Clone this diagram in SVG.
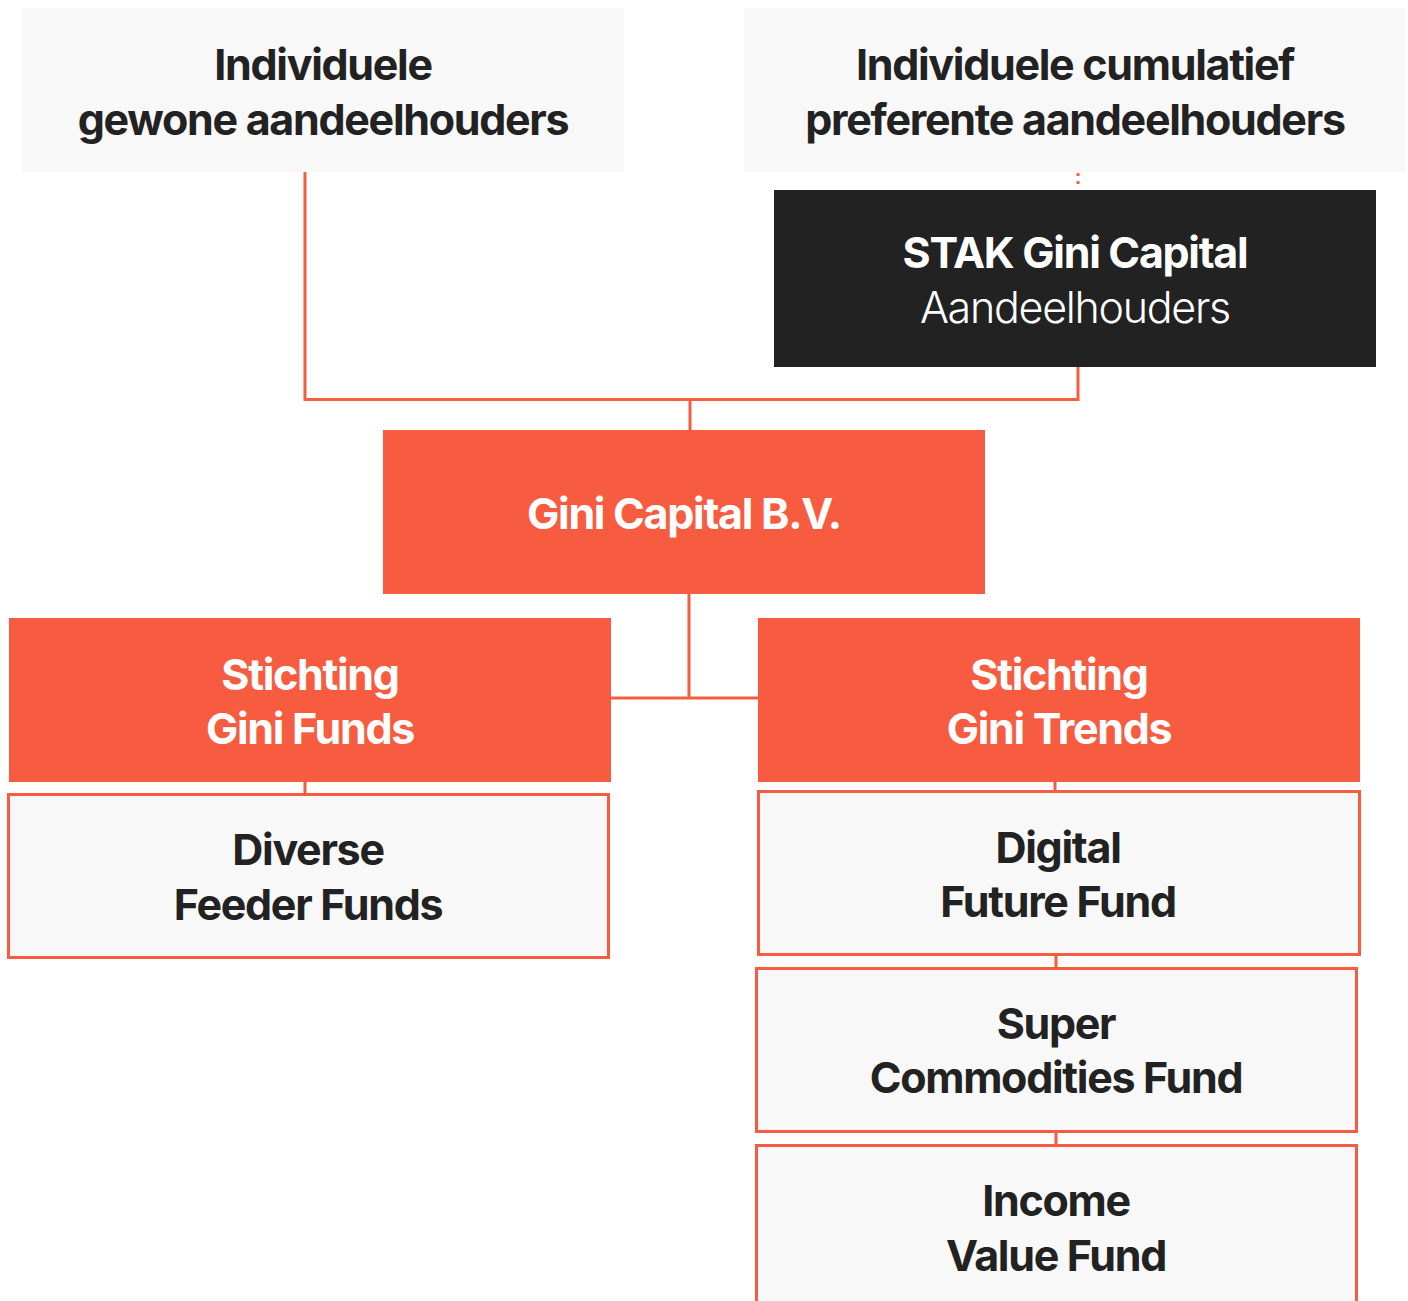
<svg xmlns="http://www.w3.org/2000/svg" width="1408" height="1301" viewBox="0 0 1408 1301">
<style>
.lt{fill:#f8f8f8}
.or{fill:#f75c40}
.dk{fill:#222222}
.bx{fill:#f8f8f8;stroke:#f75c40;stroke-width:3}
.c{fill:none;stroke:#f75c40;stroke-width:3}
text{font-family:Inter,"Noto Sans","Liberation Sans",sans-serif;font-size:43px;font-weight:700;text-anchor:middle;letter-spacing:-1.3px}
.k{fill:#222222}
.w{fill:#ffffff}
.l{font-weight:300}
</style>
<rect width="1408" height="1301" fill="#ffffff"/>
<g id="connectors">
<polyline class="c" points="305,172 305,399.5 1078,399.5 1078,367"/>
<line class="c" x1="690" y1="399.5" x2="690" y2="430"/>
<line class="c" x1="689" y1="594" x2="689" y2="698"/>
<line class="c" x1="611" y1="698" x2="758" y2="698"/>
<line class="c" x1="305" y1="782" x2="305" y2="793"/>
<line class="c" x1="1055" y1="782" x2="1055" y2="790"/>
<line class="c" x1="1056" y1="955" x2="1056" y2="967"/>
<line class="c" x1="1056" y1="1132" x2="1056" y2="1144"/>
<line x1="1078" y1="173" x2="1078" y2="187" stroke="#f75c40" stroke-width="3" stroke-dasharray="3,5"/>
</g>
<g id="n1"><rect class="lt" x="22" y="8" width="602" height="164"/>
<text class="k" x="323" y="80">Individuele</text><text class="k" x="323" y="135">gewone aandeelhouders</text></g>
<g id="n2"><rect class="lt" x="744" y="8" width="662" height="164"/>
<text class="k" x="1075" y="80">Individuele cumulatief</text><text class="k" x="1075" y="135">preferente aandeelhouders</text></g>
<g id="n3"><rect class="dk" x="774" y="190" width="602" height="177"/>
<text class="w" x="1075" y="268">STAK Gini Capital</text><text class="w l" x="1075" y="323">Aandeelhouders</text></g>
<g id="n4"><rect class="or" x="383" y="430" width="602" height="164"/>
<text class="w" x="684" y="529">Gini Capital B.V.</text></g>
<g id="n5"><rect class="or" x="9" y="618" width="602" height="164"/>
<text class="w" x="310" y="690">Stichting</text><text class="w" x="310" y="744">Gini Funds</text></g>
<g id="n6"><rect class="or" x="758" y="618" width="602" height="164"/>
<text class="w" x="1059" y="690">Stichting</text><text class="w" x="1059" y="744">Gini Trends</text></g>
<g id="n7"><rect class="bx" x="8.5" y="794.5" width="600" height="163"/>
<text class="k" x="308" y="865">Diverse</text><text class="k" x="308" y="920">Feeder Funds</text></g>
<g id="n8"><rect class="bx" x="758.5" y="791.5" width="601" height="163"/>
<text class="k" x="1058" y="863">Digital</text><text class="k" x="1058" y="917">Future Fund</text></g>
<g id="n9"><rect class="bx" x="756.5" y="968.5" width="600" height="163"/>
<text class="k" x="1056" y="1039">Super</text><text class="k" x="1056" y="1093">Commodities Fund</text></g>
<g id="n10"><rect class="bx" x="756.5" y="1145.5" width="600" height="170"/>
<text class="k" x="1056" y="1216">Income</text><text class="k" x="1056" y="1271">Value Fund</text></g>
</svg>
